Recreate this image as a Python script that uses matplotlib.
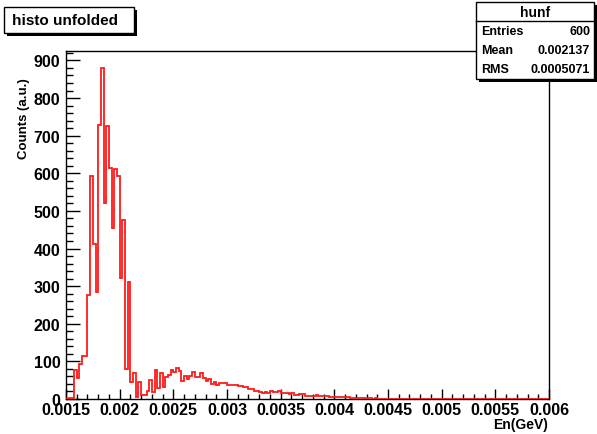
"""
Histograma desplegado (estilo ROOT) con caja de estadisticas
"""

import numpy as np
import matplotlib
matplotlib.use('Agg')
import matplotlib.pyplot as plt
from matplotlib.patches import Rectangle
from matplotlib.ticker import MultipleLocator, FormatStrFormatter

bin_start = 0.0015
bin_width = 0.000025
counts = [
    0, 3, 3, 77, 55, 93, 114, 114, 277, 594, 413, 284, 729, 881, 521, 725,
    615, 455, 612, 593, 321, 475, 80, 310, 44,
    70, 5, 45, 10, 10, 20, 50, 18, 77, 28, 68, 31, 59, 64, 78, 71, 82, 75,
    49, 62, 53, 62, 72, 59, 59, 69, 57, 49, 52, 40, 46, 38,
    43, 42, 42, 38, 36, 36, 38, 35, 35, 33, 31, 27, 27, 22, 20, 18, 17, 18,
    15, 20, 19, 18, 20, 16, 15, 15, 13, 15, 11, 11, 12, 12, 9, 9, 9, 9, 10,
    7, 7, 7, 7, 6, 6, 4, 4, 5, 5,
    4, 4, 3, 3, 3, 2, 3, 2, 2, 2, 1, 2, 1, 1, 1, 1, 1,
    1, 0, 1, 1, 0, 1, 0, 1, 0, 0, 1, 0, 0, 1, 0, 0, 0, 1, 0, 0,
] + [0] * 39

x_min, x_max = 0.0015, 0.006
title = "histo unfolded"
hist_name = "hunf"
stats = [("Entries", "600"), ("Mean", "0.002137"), ("RMS", "0.0005071")]
x_title = "En(GeV)"
y_title = "Counts (a.u.)"

plt.rcParams['font.family'] = ['Liberation Sans', 'DejaVu Sans']
plt.rcParams['font.weight'] = 'bold'

W, H = 597, 435
fig = plt.figure(figsize=(W / 100, H / 100), dpi=100)
fig.patch.set_facecolor('white')


def fx(x):
    return x / W


def fy(y):
    return 1 - y / H


ax = fig.add_axes([fx(66), fy(400), fx(549) - fx(66), fy(52) - fy(400)])

counts = np.array(counts, dtype=float)
edges = bin_start + bin_width * np.arange(len(counts) + 1)

ax.stairs(counts, edges, color='#ff1a1a', lw=1.3, zorder=3)

ax.set_xlim(x_min, x_max)
ax.set_ylim(0, counts.max() * 1.05)

ax.xaxis.set_major_locator(MultipleLocator(0.0005))
ax.xaxis.set_minor_locator(MultipleLocator(0.0001))
ax.xaxis.set_major_formatter(FormatStrFormatter('%g'))
ax.yaxis.set_major_locator(MultipleLocator(100))
ax.yaxis.set_minor_locator(MultipleLocator(20))

ax.tick_params(axis='x', which='major', direction='in', length=7.5, width=1,
               pad=2, labelsize=11.5)
ax.tick_params(axis='x', which='minor', direction='in', length=3.8, width=1)
ax.tick_params(axis='y', which='major', direction='in', length=10.4, width=1,
               pad=4, labelsize=11.5)
ax.tick_params(axis='y', which='minor', direction='in', length=5.2, width=1)
for lab in ax.get_xticklabels() + ax.get_yticklabels():
    lab.set_fontweight('bold')
for sp in ax.spines.values():
    sp.set_linewidth(1)

fig.text(fx(548), fy(425), x_title, ha='right', va='center',
         fontsize=10, fontweight='bold')
fig.text(fx(24), fy(78), y_title, ha='center', va='top', rotation=90,
         fontsize=9.5, fontweight='bold')

# caja del titulo
fig.patches.append(Rectangle((fx(7), fy(37)), fx(130), fy(0) - fy(26),
                             transform=fig.transFigure, facecolor='black',
                             edgecolor='none', zorder=5))
fig.patches.append(Rectangle((fx(4), fy(34)), fx(130), fy(0) - fy(26),
                             transform=fig.transFigure, facecolor='white',
                             edgecolor='black', lw=1, zorder=6))
fig.text(fx(12), fy(21), title, ha='left', va='center', fontsize=11,
         fontweight='bold', zorder=7)

# caja de estadisticas
bx0, bx1, by0, by1 = 476, 594, 3, 80
fig.patches.append(Rectangle((fx(bx0 + 3), fy(by1 + 3)), fx(bx1 - bx0),
                             fy(0) - fy(by1 - by0),
                             transform=fig.transFigure, facecolor='black',
                             edgecolor='none', zorder=5))
fig.patches.append(Rectangle((fx(bx0), fy(by1)), fx(bx1 - bx0),
                             fy(0) - fy(by1 - by0),
                             transform=fig.transFigure, facecolor='white',
                             edgecolor='black', lw=1, zorder=6))
row_h = (by1 - by0) / (len(stats) + 1)
fig.add_artist(plt.Line2D([fx(bx0), fx(bx1)], [fy(by0 + row_h)] * 2,
                          transform=fig.transFigure, color='black', lw=1,
                          zorder=7))
fig.text(fx((bx0 + bx1) / 2), fy(by0 + row_h / 2), hist_name, ha='center',
         va='center', fontsize=10, fontweight='bold', zorder=8)
for i, (name, val) in enumerate(stats):
    yc = by0 + row_h * (i + 1.5)
    fig.text(fx(bx0 + 5), fy(yc), name, ha='left', va='center', fontsize=9,
             fontweight='bold', zorder=8)
    fig.text(fx(bx1 - 4), fy(yc), val, ha='right', va='center', fontsize=9,
             fontweight='bold', zorder=8)

fig.savefig('out.png', dpi=100)
